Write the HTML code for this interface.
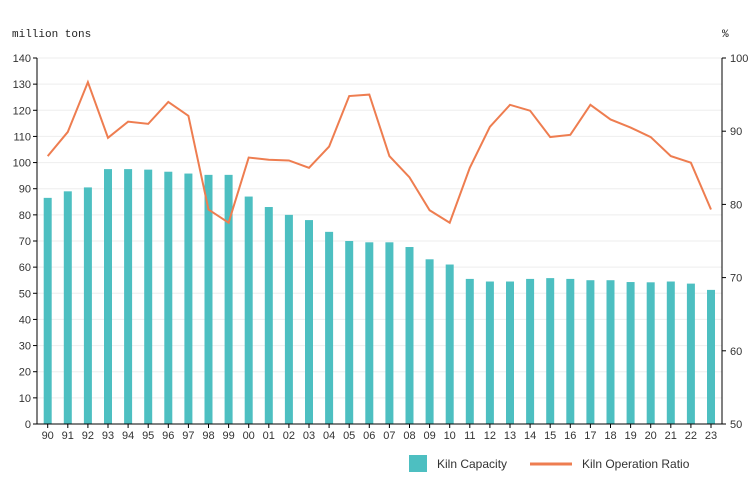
<!DOCTYPE html>
<html><head><meta charset="utf-8"><style>
body{margin:0;background:#fff;}
svg{display:block;font-family:"Liberation Sans",sans-serif;}
</style></head><body>
<svg id="c" width="750" height="500">
<text x="12" y="37" font-size="11" font-family="Liberation Mono,monospace" fill="#222">million tons</text>
<text x="722" y="37" font-size="11" font-family="Liberation Mono,monospace" fill="#222">%</text>
<g id="grid"></g><g id="bars"></g><g id="axes"></g><g id="line"></g>
<g>
<rect x="409" y="455" width="18" height="17" fill="#4dbfc1"/>
<text x="437" y="468" font-size="12" fill="#333">Kiln Capacity</text>
<line x1="530" y1="464" x2="572" y2="464" stroke="#ee7d50" stroke-width="3"/>
<text x="582" y="468" font-size="12" fill="#333">Kiln Operation Ratio</text>
</g>
</svg>
<script>
const categories=["90","91","92","93","94","95","96","97","98","99","00","01","02","03","04","05","06","07","08","09","10","11","12","13","14","15","16","17","18","19","20","21","22","23"];
const capacity=[86.5,89,90.5,97.5,97.5,97.3,96.5,95.8,95.3,95.3,87,83,80,78,73.5,70,69.5,69.5,67.7,63,61,55.5,54.5,54.5,55.5,55.8,55.5,55,55,54.3,54.2,54.5,53.7,51.3];
const ratio=[86.6,89.9,96.7,89.1,91.3,91,94,92.1,79.3,77.5,86.4,86.1,86,85,87.9,94.8,95,86.6,83.7,79.2,77.5,85,90.6,93.6,92.8,89.2,89.5,93.6,91.6,90.5,89.2,86.6,85.7,79.3];
const leftTicks=[0,10,20,30,40,50,60,70,80,90,100,110,120,130,140];
const rightTicks=[50,60,70,80,90,100];
const NS="http://www.w3.org/2000/svg";
const X0=37,X1=722,Y0=424,Y1=58;
const x=i=>47.7+i*(711-47.7)/(categories.length-1);
const yL=v=>Y0-(v/140)*(Y0-Y1);
const yR=v=>Y0-((v-50)/50)*(Y0-Y1);
function mk(t,a,p){const e=document.createElementNS(NS,t);for(const k in a)e.setAttribute(k,a[k]);p.appendChild(e);return e;}
const grid=document.getElementById('grid'),bars=document.getElementById('bars'),axes=document.getElementById('axes'),line=document.getElementById('line');
leftTicks.forEach(v=>{
 const g=mk('line',{x1:X0,x2:X1,y1:yL(v),y2:yL(v),stroke:'#eee'},grid);
 
 
 mk('line',{x1:X0-4,x2:X0,y1:yL(v),y2:yL(v),stroke:'#000'},axes);
 const t=mk('text',{x:X0-6,y:yL(v)+4,'font-size':11,'text-anchor':'end',fill:'#333'},axes);
 t.textContent=v;
 
 
});
rightTicks.forEach(v=>{
 mk('line',{x1:X1,x2:X1+4,y1:yR(v),y2:yR(v),stroke:'#000'},axes);
 const t=mk('text',{x:X1+8,y:yR(v)+4,'font-size':11,fill:'#333'},axes);
 t.textContent=v;
 
 
});
categories.forEach((c,i)=>{
 const r=mk('rect',{x:x(i)-4,y:yL(capacity[i]),width:8,height:Y0-yL(capacity[i]),fill:'#4dbfc1'},bars);
 
 
 mk('line',{x1:x(i),x2:x(i),y1:Y0,y2:Y0+4,stroke:'#000'},axes);
 const t=mk('text',{x:x(i),y:Y0+15,'font-size':11,'text-anchor':'middle',fill:'#333'},axes);
 t.textContent=c;
 
 
});
const la=mk('line',{x1:X0,x2:X0,y1:Y1,y2:Y0,stroke:'#000'},axes);


const ra=mk('line',{x1:X1,x2:X1,y1:Y1,y2:Y0,stroke:'#000'},axes);


const xa=mk('line',{x1:X0,x2:X1,y1:Y0,y2:Y0,stroke:'#000'},axes);


const pl=mk('polyline',{points:ratio.map((v,i)=>x(i)+','+yR(v)).join(' '),fill:'none',stroke:'#ee7d50','stroke-width':2},line);


</script>
</body></html>
